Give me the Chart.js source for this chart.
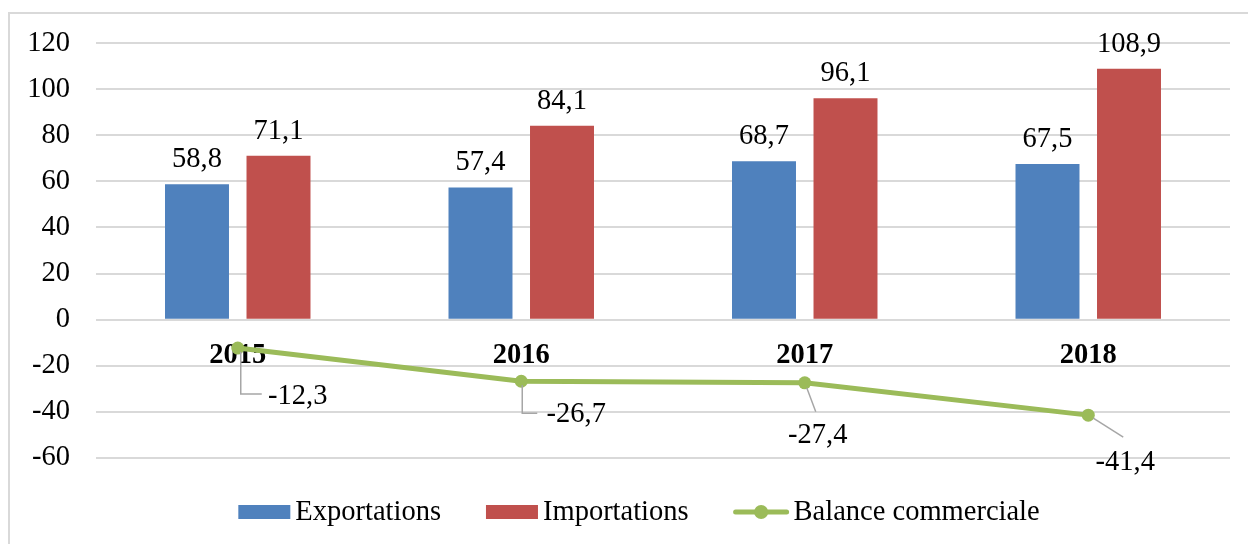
<!DOCTYPE html>
<html><head><meta charset="utf-8">
<script src="https://cdn.jsdelivr.net/npm/chart.js@4.4.1/dist/chart.umd.min.js"></script>
<style>
html,body{margin:0;padding:0;background:#fff;overflow:hidden;width:1248px;height:544px;}
#frame{position:absolute;left:8px;top:12px;width:1300px;height:600px;border:2px solid #d9d9d9;box-sizing:border-box;}
#wrap{position:absolute;left:0;top:0;width:1248px;height:544px;}
</style></head><body>
<div id="frame"></div>
<div id="wrap"><canvas id="c" width="1248" height="544"></canvas></div>
<script>
// ---- data ----
const categories = ['2015', '2016', '2017', '2018'];
const exportations = [58.8, 57.4, 68.7, 67.5];
const importations = [71.1, 84.1, 96.1, 108.9];
const balance = [-12.3, -26.7, -27.4, -41.4];
const yTicks = [-60, -40, -20, 0, 20, 40, 60, 80, 100, 120];
const seriesNames = ['Exportations', 'Importations', 'Balance commerciale'];

// ---- styles ----
const COL_BLUE = '#4F81BD', COL_RED = '#C0504D', COL_GREEN = '#9BBB59';
const FONT_FAMILY = '"Liberation Serif", "Times New Roman", serif';
const FONT_SIZE = 28.5;
// label placement for the balance series (offsets from the point, in px)
const balanceLabelLayout = [
  { dx: 60, dy: 48, leader: [[3, 4], [3, 46], [24, 46]] },
  { dx: 55, dy: 33, leader: [[1, 4], [1, 32], [16, 32]] },
  { dx: 13, dy: 53, leader: [[2, 5], [11, 29]] },
  { dx: 37, dy: 47, leader: [[5, 3], [35, 22]] }
];
const fmt = v => v.toFixed(1).replace('.', ',');

const labelPlugin = {
  id: 'labels',
  beforeDatasetsDraw(chart) {
    const ctx = chart.ctx, x = chart.scales.x, y = chart.scales.y;
    ctx.save();
    ctx.font = 'bold ' + FONT_SIZE + 'px ' + FONT_FAMILY;
    ctx.fillStyle = '#000';
    ctx.textAlign = 'center';
    ctx.textBaseline = 'alphabetic';
    const y0 = y.getPixelForValue(0);
    categories.forEach((c, i) => ctx.fillText(c, x.getPixelForValue(i), y0 + 43));
    ctx.restore();
  },
  afterDatasetsDraw(chart) {
    const ctx = chart.ctx;
    ctx.save();
    ctx.font = FONT_SIZE + 'px ' + FONT_FAMILY;
    ctx.fillStyle = '#000';
    ctx.textAlign = 'center';
    // bar labels
    [1, 2].forEach(di => {
      const meta = chart.getDatasetMeta(di);
      const vals = chart.data.datasets[di].data;
      ctx.textBaseline = 'alphabetic';
      meta.data.forEach((bar, j) => ctx.fillText(fmt(vals[j]), bar.x, bar.y - 17));
    });
    // balance labels with leader lines
    const lm = chart.getDatasetMeta(0);
    lm.data.forEach((pt, j) => {
      const L = balanceLabelLayout[j];
      ctx.strokeStyle = '#a6a6a6';
      ctx.lineWidth = 1.5;
      ctx.beginPath();
      L.leader.forEach((p, k) => {
        const px = pt.x + p[0], py = pt.y + p[1];
        if (k === 0) ctx.moveTo(px, py); else ctx.lineTo(px, py);
      });
      ctx.stroke();
      ctx.textBaseline = 'middle';
      ctx.fillText(fmt(balance[j]), pt.x + L.dx, pt.y + L.dy);
    });
    ctx.restore();
  },
  afterDraw(chart) {
    // legend
    const ctx = chart.ctx;
    ctx.save();
    ctx.font = FONT_SIZE + 'px ' + FONT_FAMILY;
    const boxW = 52, gapText = 5, gapItem = 45;
    const widths = seriesNames.map((n, i) => (i === 2 ? 55 : boxW) + gapText + ctx.measureText(n).width);
    const total = widths.reduce((a, b) => a + b, 0) + gapItem * (widths.length - 1);
    let x = 639 - total / 2;
    const yc = 512;
    seriesNames.forEach((n, i) => {
      if (i < 2) {
        ctx.fillStyle = i === 0 ? COL_BLUE : COL_RED;
        ctx.fillRect(x, yc - 7, boxW, 14);
      } else {
        ctx.strokeStyle = COL_GREEN;
        ctx.lineWidth = 5;
        ctx.lineCap = 'round';
        ctx.beginPath(); ctx.moveTo(x + 2, yc); ctx.lineTo(x + 53, yc); ctx.stroke();
        ctx.fillStyle = COL_GREEN;
        ctx.beginPath(); ctx.arc(x + 27.5, yc, 7, 0, Math.PI * 2); ctx.fill();
      }
      const tx = x + (i === 2 ? 55 : boxW) + gapText;
      ctx.fillStyle = '#000';
      ctx.textAlign = 'left';
      ctx.textBaseline = 'middle';
      ctx.fillText(n, tx, yc + 1);
      x += widths[i] + gapItem;
    });
    ctx.restore();
  }
};

new Chart(document.getElementById('c'), {
  type: 'bar',
  data: {
    labels: categories,
    datasets: [
      { type: 'line', label: seriesNames[2], data: balance, borderColor: COL_GREEN, backgroundColor: COL_GREEN,
        borderWidth: 5, pointRadius: 6.5, pointHoverRadius: 6.5, pointBackgroundColor: COL_GREEN,
        pointBorderColor: COL_GREEN, pointBorderWidth: 0, tension: 0, order: -1 },
      { label: seriesNames[0], data: exportations, backgroundColor: COL_BLUE, order: 1,
        categoryPercentage: 0.575, barPercentage: 0.785 },
      { label: seriesNames[1], data: importations, backgroundColor: COL_RED, order: 1,
        categoryPercentage: 0.575, barPercentage: 0.785 }
    ]
  },
  options: {
    responsive: false,
    animation: false,
    devicePixelRatio: 1,
    layout: { padding: { left: 0, right: 18, top: 43, bottom: 86 } },
    plugins: { legend: { display: false }, tooltip: { enabled: false } },
    scales: {
      x: { display: false, offset: true },
      y: {
        min: -60, max: 120,
        afterFit: s => { s.width = 96; },
        afterBuildTicks: s => { s.ticks = yTicks.map(v => ({ value: v })); },
        border: { display: false },
        grid: { color: '#d9d9d9', lineWidth: 2, drawTicks: false },
        ticks: { padding: 26, color: '#000', font: { family: FONT_FAMILY, size: FONT_SIZE },
                 callback: v => String(v) }
      }
    }
  },
  plugins: [labelPlugin]
});
</script>
</body></html>
